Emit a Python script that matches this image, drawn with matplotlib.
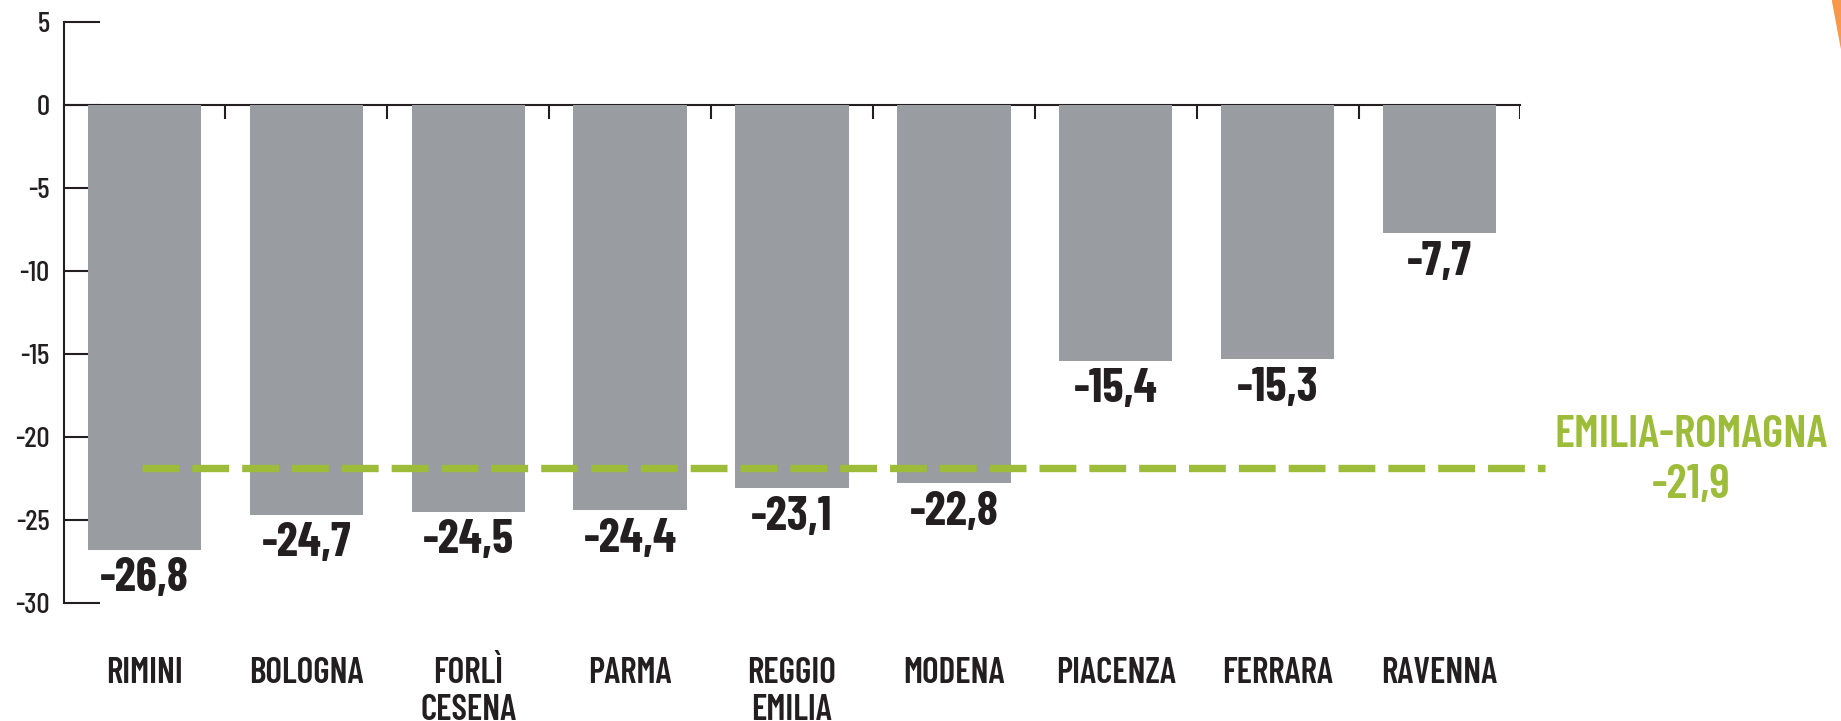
import matplotlib
matplotlib.use('Agg')
import matplotlib.pyplot as plt
from matplotlib.patches import Polygon

# data
provinces = ['RIMINI', 'BOLOGNA', 'FORLÌ\nCESENA', 'PARMA', 'REGGIO\nEMILIA',
             'MODENA', 'PIACENZA', 'FERRARA', 'RAVENNA']
changes = [-26.8, -24.7, -24.5, -24.4, -23.1, -22.8, -15.4, -15.3, -7.7]
region_name = 'EMILIA-ROMAGNA'
region_value = -21.9
y_ticks = [5, 0, -5, -10, -15, -20, -25, -30]

BAR = '#999da1'
DARK = '#231f20'
GREEN = '#9cbc3a'
ORANGE = '#f7984a'
FONT = ['Barlow Condensed', 'Roboto Condensed', 'DejaVu Sans']

plt.rcParams['axes.unicode_minus'] = False
plt.rcParams['font.family'] = FONT


def it_fmt(v):
    # italian decimal comma
    return f'{v:.1f}'.replace('.', ',')


W, H = 1841, 721
fig = plt.figure(figsize=(W / 100, H / 100), dpi=100)
# axes placed in pixels: x from -0.5..8.5, y from -30..5
ax = fig.add_axes([63.5 / W, 1 - 602.7 / H, 1457 / W, 580.3 / H])
ax.set_xlim(-0.5, 8.5)
ax.set_ylim(-30, 5)

x = list(range(len(provinces)))
ax.bar(x, changes, width=0.7, color=BAR, zorder=2)

# zero line with small downward ticks between bars
ax.plot([-0.5, 8.5], [0, 0], color=DARK, lw=1.5, zorder=1, clip_on=False)
ax.vlines([i + 0.5 for i in x], -0.85, 0, color=DARK, lw=1.5, zorder=1)

for s in ['top', 'right', 'bottom']:
    ax.spines[s].set_visible(False)
ax.spines['left'].set_color(DARK)
ax.spines['left'].set_linewidth(1.5)
ax.set_xticks([])
ax.set_yticks(y_ticks)
ax.set_yticklabels([str(t) for t in y_ticks], fontweight='medium')
ax.tick_params(axis='y', direction='in', length=26, width=1.5, color=DARK,
               pad=10, labelsize=21, labelcolor=DARK)

# value labels under each bar
for xi, v in zip(x, changes):
    ax.annotate(it_fmt(v), xy=(xi, v), xytext=(0, -30), textcoords='offset points',
                ha='center', va='baseline', fontsize=34.5, fontweight='bold',
                color=DARK, annotation_clip=False)

# category names below the axis (one text per line to control spacing)
for xi, name in zip(x, provinces):
    for k, line in enumerate(name.split('\n')):
        ax.annotate(line, xy=(xi, -30), xytext=(0, -57.8 - 26.6 * k),
                    textcoords='offset points', ha='center', va='baseline',
                    fontsize=25.5, fontweight='semibold', color=DARK,
                    annotation_clip=False)

# regional average dashed line
ax.plot([-0.015, 8.65], [region_value, region_value], color=GREEN, lw=5.3,
        linestyle=(0, (5.0, 1.77)), dash_capstyle='butt', clip_on=False, zorder=3)
t1 = ax.annotate(region_name, xy=(8.65, -20.61), xytext=(1828 - 1545, 0),
                 textcoords='offset pixels', ha='right', va='baseline', fontsize=33,
                 fontweight='semibold', color=GREEN, annotation_clip=False)
ax.annotate(it_fmt(region_value), xy=(0.5, -23.69), xycoords=(t1, 'data'),
            ha='center', va='baseline', fontsize=34.5, fontweight='semibold',
            color=GREEN, annotation_clip=False)

# orange corner from the page layout
fig.patches.append(Polygon([(1832 / W, 1), (1, 1), (1, 1 - 48 / H)], closed=True,
                           transform=fig.transFigure, color=ORANGE))

fig.savefig('out.png', dpi=100)
